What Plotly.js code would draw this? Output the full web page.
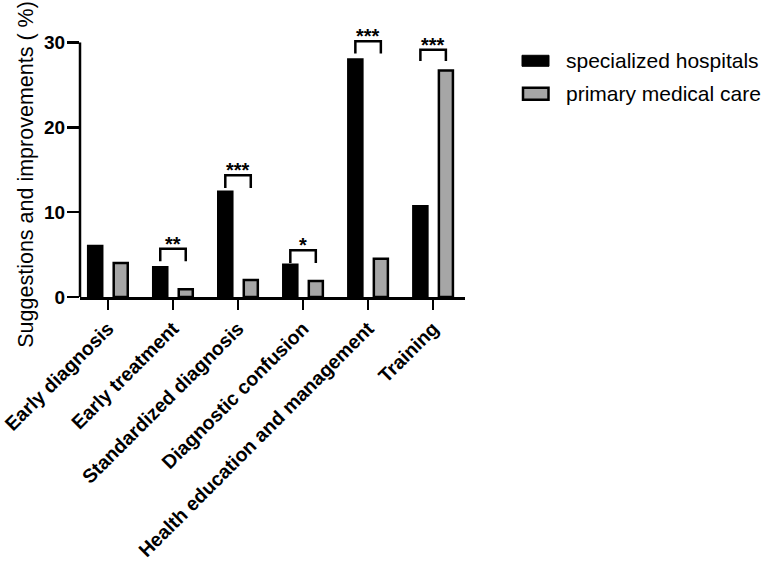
<!DOCTYPE html>
<html>
<head>
<meta charset="utf-8">
<script src="https://cdn.plot.ly/plotly-3.0.1.min.js"></script>
<style>html,body{margin:0;padding:0;background:#fff;}#chart{width:765px;height:563px;}</style>
</head>
<body>
<div id="chart"></div>
<script>
// ---- data ----
const categories = ['Early diagnosis', 'Early treatment', 'Standardized diagnosis',
  'Diagnostic confusion', 'Health education and management', 'Training'];
const specialized = [6.0, 3.5, 12.4, 3.8, 28.0, 10.7];
const primary = [4.0, 0.9, 2.0, 1.9, 4.5, 26.7];
const sigLabels = ['', '**', '***', '*', '***', '***'];
const bracketTop = [null, 5.7, 14.35, 5.5, 30.15, 29.15];
const bracketLeg = [null, 4.2, 12.85, 4.0, 28.7, 27.8];
const seriesNames = ['specialized hospitals', 'primary medical care'];
const yTicks = [0, 10, 20, 30];
const yAxisMax = 30;

// ---- layout constants ----
const FONT = 'Liberation Sans, Arial, sans-serif';
const YR = [0, 33];
const M = {l: 80, r: 300, t: 17.2, b: 265.7};
const PW = 765 - M.l - M.r, PH = 563 - M.t - M.b;
const XR = [-0.43, 5.49];
const OFF = 0.196;
const px = x => (x - M.l) / PW;
const py = y => (563 - M.b - y) / PH;
const GRAY = '#a6a6a6';

const traces = [
  {type: 'bar', x: categories, y: specialized, name: seriesNames[0],
   marker: {color: '#000', line: {color: '#000', width: 2.5}}, showlegend: false, hoverinfo: 'x+y'},
  {type: 'bar', x: categories, y: primary, name: seriesNames[1],
   marker: {color: GRAY, line: {color: '#000', width: 2.5}}, showlegend: false, hoverinfo: 'x+y'}
];

const annotations = [];
categories.forEach((c, i) => {
  if (!sigLabels[i]) return;
  traces.push({
    type: 'scatter', mode: 'lines', xaxis: 'x2', yaxis: 'y', cliponaxis: false,
    x: [i - OFF, i - OFF, i + OFF, i + OFF],
    y: [bracketLeg[i], bracketTop[i], bracketTop[i], bracketLeg[i]],
    line: {color: '#000', width: 2.5}, showlegend: false, hoverinfo: 'skip'
  });
  annotations.push({
    xref: 'x', yref: 'y', x: c, y: bracketTop[i], text: sigLabels[i],
    showarrow: false, yanchor: 'bottom', yshift: -8,
    font: {family: FONT, size: 20, color: '#000', weight: 'bold'}
  });
});

// y-axis title
annotations.push({
  xref: 'paper', yref: 'paper', x: px(26), y: py(175), textangle: -90,
  text: 'Suggestions and improvements ( %)', showarrow: false,
  xanchor: 'center', yanchor: 'middle',
  font: {family: FONT, size: 21.5, color: '#000'}
});

// y-axis line (stops at the last tick) and drawn legend
const shapes = [
  {type: 'line', xref: 'paper', yref: 'paper', x0: 0, x1: 0, y0: 0, y1: yAxisMax / YR[1],
   line: {color: '#000', width: 2.5}},
  {type: 'rect', xref: 'paper', yref: 'paper', x0: px(522), x1: px(549), y0: py(55.5), y1: py(66.5),
   fillcolor: '#000', line: {color: '#000', width: 1}},
  {type: 'rect', xref: 'paper', yref: 'paper', x0: px(523), x1: px(548.5), y0: py(88), y1: py(100),
   fillcolor: GRAY, line: {color: '#000', width: 2.5}}
];
annotations.push({xref: 'paper', yref: 'paper', x: px(564), y: py(61), text: seriesNames[0],
  showarrow: false, xanchor: 'left', yanchor: 'middle', font: {family: FONT, size: 21, color: '#000'}});
annotations.push({xref: 'paper', yref: 'paper', x: px(564), y: py(94), text: seriesNames[1],
  showarrow: false, xanchor: 'left', yanchor: 'middle', font: {family: FONT, size: 21, color: '#000'}});

const layout = {
  width: 765, height: 563,
  margin: M,
  paper_bgcolor: '#fff', plot_bgcolor: '#fff',
  barmode: 'group', bargap: 0.215, bargroupgap: 0.45,
  showlegend: false,
  xaxis: {
    type: 'category', range: XR, showline: true, linecolor: '#000', linewidth: 2.5,
    ticks: 'outside', ticklen: 10, tickwidth: 2.5, tickcolor: '#000',
    tickangle: -45, showgrid: false, zeroline: false,
    tickfont: {family: FONT, size: 19.5, color: '#000', weight: 'bold'}
  },
  xaxis2: {type: 'linear', overlaying: 'x', range: XR, visible: false, anchor: 'y'},
  yaxis: {
    range: YR, showline: false,
    ticks: 'outside', ticklen: 12, tickwidth: 2.5, tickcolor: '#000',
    tickvals: yTicks, ticktext: yTicks.map(String), showgrid: false, zeroline: false,
    ticklabelstandoff: -2,
    tickfont: {family: FONT, size: 19, color: '#000', weight: 'bold'}
  },
  annotations: annotations,
  shapes: shapes
};

Plotly.newPlot('chart', traces, layout, {displayModeBar: false, staticPlot: true});
</script>
</body>
</html>
